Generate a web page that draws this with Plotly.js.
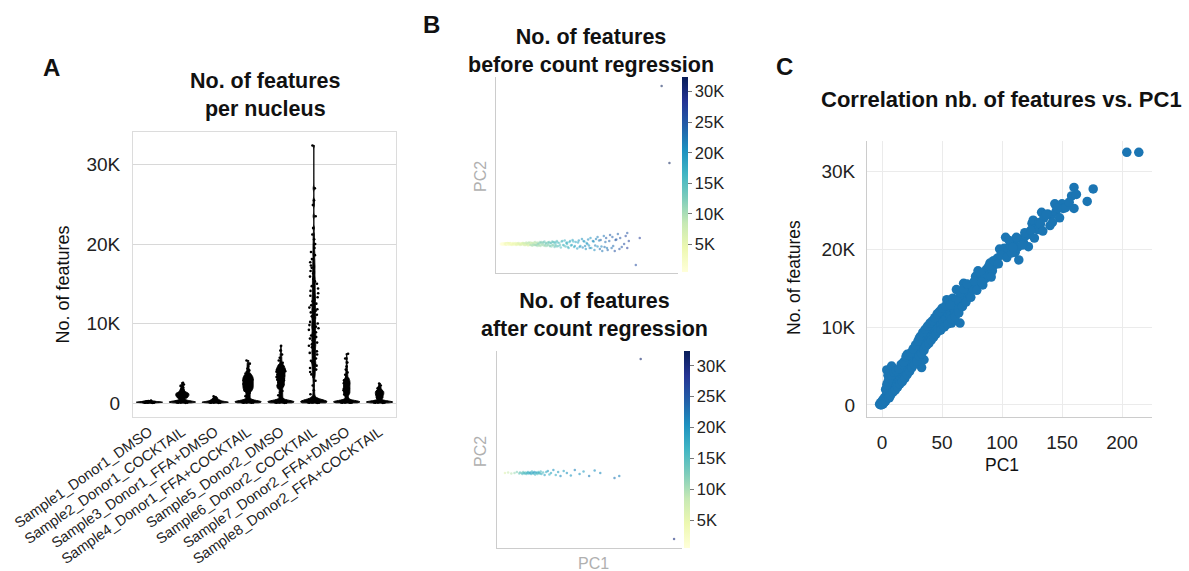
<!DOCTYPE html>
<html><head><meta charset="utf-8">
<script src="https://cdn.plot.ly/plotly-3.0.1.min.js"></script>
<style>html,body{margin:0;padding:0;background:#fff}#chart{width:1189px;height:571px}</style>
</head><body><div id="chart"></div>
<script>
// ---------- DATA ----------
const categories = ['Sample1_Donor1_DMSO','Sample2_Donor1_COCKTAIL','Sample3_Donor1_FFA+DMSO','Sample4_Donor1_FFA+COCKTAIL','Sample5_Donor2_DMSO','Sample6_Donor2_COCKTAIL','Sample7_Donor2_FFA+DMSO','Sample8_Donor2_FFA+COCKTAIL'];
const s1 = [20,30,40,50,55,62,70,78,85,90,95,102,110,115,120,128,135,142,150,160,170,180,195,210,230,260,300];
const s2 = [20,35,50,60,70,80,90,100,110,120,135,150,165,180,200,220,240,260,290,320,
  380,460,540,610,680,760,830,900,960,1020,1090,1150,1210,1280,1350,1430,1520,1610,1720,1840,1980,2150,2320,2550,
  650,720,790,870,930,990,1060,1120,1180,1250,1320];
const s3 = [20,30,45,55,65,75,85,95,105,115,125,135,150,165,180,200,220,245,270,300,330,
  360,390,440,490,550,620,700,830];
const s4 = [25,35,50,60,70,80,90,100,110,120,135,150,165,180,200,220,240,260,290,320,
  450,580,720,860,990,1130,1270,1400,1520,1650,1770,1880,1990,2100,2210,2320,2430,2540,2650,2760,2870,2980,3090,3200,3320,3450,3580,3720,3900,4100,4350,4650,4950,5350,
  1560,1700,1820,1940,2050,2160,2270,2380,2490,2600,2710,2820,2930,3040,3150,3260,3380,3510];
const s5 = [20,35,45,60,70,80,90,100,110,125,140,155,170,185,200,220,245,270,300,330,
  480,640,810,980,1150,1330,1510,1690,1870,2050,2230,2410,2590,2770,2940,3100,3260,3410,3560,3710,3860,4010,4160,4310,4460,4620,4800,5050,5350,5700,6100,6600,7200,
  2140,2320,2500,2680,2850,3020,3180,3340,3490,3640,3790,3940,4090,4240,4390,4540,4710];
const s6 = [20,30,45,55,65,75,85,95,105,115,130,145,160,175,190,210,230,250,280,310,350,
  420,700,1100,1600,2200,2800,3300,3600,3900,4200,4400,4700,4900,5100,5300,5600,5800,6100,6300,6500,6700,7000,7200,7400,7600,7900,8100,8300,8500,8700,8900,9200,9400,9600,9800,
  10000,10200,10500,10700,10900,11100,11400,11600,11800,12000,12300,12500,12800,13000,13300,13500,13800,14100,14400,14700,15000,15300,15600,15900,16300,16600,17000,17300,17700,18100,18600,19000,19500,20000,20600,21200,22000,23500,24900,25500,27000,32400];
const s7 = [25,35,50,60,70,80,90,100,110,120,135,150,165,180,200,220,240,265,295,330,
  520,700,880,1060,1240,1420,1600,1780,1960,2140,2320,2500,2680,2860,3050,3280,3550,3850,4200,4600,5100,5600,6200,
  1150,1330,1510,1690,1870,2050,2230,2410,2590,2770,2950];
const s8 = [20,35,50,60,70,80,90,100,110,120,135,150,165,180,200,220,240,260,290,320,
  400,520,640,760,880,1000,1100,1200,1300,1400,1500,1610,1730,1860,2000,2200,2450,
  580,700,820,940,1050,1150,1250,1350,1450,1560];
const samples = [s1,s2,s3,s4,s5,s6,s7,s8];
const bandwidths = [40,90,60,150,160,250,150,90];

// per-nucleus PC1 / PC2 (before regression) and number of features
const pc1 = [-2,-1,-1,0,0,0,1,1,1,2,2,2,3,3,3,4,4,4,5,5,5,6,6,7,7,8,8,9,9,10,10,11,11,12,12,13,14,14,15,16,17,18,18,19,
 20,21,22,23,24,25,26,27,28,29,30,31,32,33,34,35,36,37,38,39,40,41,42,43,44,45,46,47,48,49,50,51,52,53,54,55,56,57,58,59,60,61,62,63,64,65,66,67,68,69,70,
 72,73,75,76,78,80,81,83,85,87,88,90,92,94,96,98,100,102,103,105,107,110,111,113,114,116,118,120,122,122,125,126,128,130,131,133,135,138,140,141,144,145,148,150,151,158,160,160,162,171,176,204,214,
 3,4,5,6,6,7,8,9,10,11,12,13,14,15,16,17,18,19,20,21,22,23,24,25,26,27,28,29,30,31,32,33,34,35,36,37,38,39,40,41,42,43,44,45,46,47,48,49,50,
 52,53,55,56,58,59,61,62,64,65,67,68,70,71,74,77,79,82,84,86,89,91,93,97,99,104,106,108,112,117,119,124,127,132,134,137,142,146,153,156,109,83,57];
const nFeatures = [100,300,0,200,500,50,400,700,150,600,900,350,800,1100,500,1000,1400,4500,1300,1700,
 3800,1500,2000,1800,4300,2000,5000,2300,2700,2500,3000,2600,3200,3000,2400,3300,3500,3000,3700,4000,
 4100,4500,3600,4700,4900,6500,5300,5600,5500,6200,6000,6600,6800,6500,7100,8500,7400,4800,7800,5800,
 8300,8700,8200,9000,9300,8900,9700,10200,9400,10000,10500,9900,10800,10300,11200,10700,11600,11000,13500,11800,
 12200,11400,10500,12500,12800,12000,14800,12400,13300,10500,13700,14000,15600,13600,14500,15200,14200,15300,14800,16500,
 17200,15800,16600,17000,17400,16500,18200,17200,18000,18800,20000,19300,20100,21500,19800,20400,21000,19600,20200,18600,
 21300,20800,21700,20300,21900,23300,23700,22600,22500,23400,24700,24000,24500,23000,24300,25800,24800,24000,25800,25200,
 26800,27900,25200,27000,26100,27700,32400,32400,
 2000,2600,3000,3400,900,1200,3800,1600,4200,1900,4400,2300,4600,2700,5200,3000,5500,3400,6200,3900,
 6400,4300,6700,4800,7200,5200,7700,5600,8200,6300,8800,6600,9300,7000,9700,7600,10100,7900,10500,8300,
 10800,8700,11200,9100,11700,9500,12000,9600,12400,
 10000,12700,10400,13200,11000,13700,11300,13500,11800,14400,12600,14900,13200,15500,13800,15900,14700,17000,15400,16200,
 17800,16400,18500,18100,19200,18900,21100,19500,21500,20500,22100,22400,21400,23200,22300,24400,23400,25200,25300,26000,20200,15800,12800];
const pc2 = [0,0.5,-0.5,0,0.5,-0.5,0,0.5,-0.5,0.5, 0,-0.5,0.5,-0.5,0.5,0,-0.5,0.5,0.5,-0.5, 0.5,0,-0.5,0.5,1,-0.5,0.5,0,-0.5,0.5,
 1,-0.5,0,0.5,-1,0.5,-0.5,1,0,-0.5, 1,0,-1,0.5,-0.5,1,0,-1,0.5,-0.5, 0.5,1,-1,0.5,-1,1.5,0,-1.5,1,-1,
 1.5,-0.5,1,-1.5,0.5,-1,2,-1,1,-2, 0.5,-1,2,-2,1,-0.5,1.5,-1.5,2.5,-1, 1,-2,1.5,-0.5,2,-2,1,-2.5,2.5,-1,
 1.5,-3,2,-1.5,3,-2,1,-3.5,2.5,-1, 3.5,-2.5,1.5,-4,3,-1.5,4,-3,2,-4.5, 3.5,-2,5,-3.5,2.5,-5,4.5,-1.5,6,-4,
 3,-6,5,-2.5,7,-5,4,-7,8,-3, 6,-6,9,-4,7,-7,4,10,-5,6, 8,-4,11,3,-21,6,158,81,
 0.5,-0.5,0,0.5,-0.5,0,0.5,-0.5,0.5,0, -0.5,0.5,0,-0.5,0.5,0,-0.5,0.5,0.5,-0.5, 0,0.5,-0.5,0.5,1,-0.5,0.5,-1,1,-0.5,
 0.5,-1,1.5,0,-1,1,-1.5,1,-0.5,1.5, -1,0.5,-1,1.5,0,-1.5,1,-1,2,
 -0.5,1.5,-2,0.5,-1,1.5,-2,1,-1,2, -1.5,0.5,-2.5,1.5,-1,3,-1.5,1,-3,2, -1,2.5,-2,1.5,-3,3,-2,1,-4,2.5,
 -1.5,3.5,-2.5,2,-4,3,-2,4.5,-3,0,0,0];

// after count regression
const pc1After = [2,6,10,14,17,20,21,23,24,25,26,27,28,29,30,31,32,33,34,35,36,37,38,39,40,41,42,43,44,45,46,47,48,50,52,54,56,58,60,63,66,69,72,76,80,85,90,96,101,108,115,122,140,146,173,215];
const pc2After = [0,0.5,-0.5,0,1,-0.5,0.5,0,-1,1,0,-0.5,0.5,-1,0,1,-0.5,0,0.5,-1,1.5,0,-0.5,1,-1.5,0.5,0,-1,1,0,-0.5,1.5,-1,0.5,-2,1,2,-1.5,0,3,-2,1,-3,2,0,-2.5,3,-1,1.5,-3,2.5,0,-5,-3,114,-66];
const featAfter = [6000,8000,9000,10500,12000,13000,14000,14500,15000,13500,15500,16000,14500,15000,17000,16500,18000,15500,19000,17500,
 16000,18500,17000,19500,16500,18000,17500,15000,16500,18000,14500,16000,17000,15500,18500,17000,19000,16500,18000,20000,
 17500,19000,21000,18500,20000,19500,21500,20000,19000,22000,20500,21000,22500,21500,31000,30000];

const kTickVals = [0,10000,20000,30000];
const kTickText = ['0','10K','20K','30K'];
const cbTickVals = [5000,10000,15000,20000,25000,30000];
const cbTickText = ['5K','10K','15K','20K','25K','30K'];
const pcTickVals = [0,50,100,150,200];

// ---------- LAYOUT HELPERS ----------
const W = 1189, H = 571;
const FONT = 'Liberation Sans, Arial, Helvetica, sans-serif';
const fx = p => p / W;
const fy = p => 1 - p / H;
const ylgnbu = [[0,'#ffffd9'],[0.125,'#edf8b1'],[0.25,'#c7e9b4'],[0.375,'#7fcdbb'],[0.5,'#41b6c4'],[0.625,'#1d91c0'],[0.75,'#225ea8'],[0.875,'#253494'],[1,'#081d58']];

const traces = [];
categories.forEach((c, i) => {
  traces.push({
    type: 'violin', name: c, y: samples[i], xaxis: 'x', yaxis: 'y',
    points: 'all', pointpos: 0, jitter: 0.5, width: 0.8, spanmode: 'hard',
    bandwidth: bandwidths[i], scalemode: 'width',
    line: {color: '#000', width: 1}, fillcolor: '#000',
    marker: {color: '#000', size: 2.6}, showlegend: false, hoverinfo: 'skip'
  });
});

function cbar(xp, ytop, ybot) {
  return {
    x: fx(xp), xanchor: 'left', xref: 'paper', xpad: 0, ypad: 0,
    y: fy((ytop + ybot) / 2), yanchor: 'middle', yref: 'paper',
    len: (ybot - ytop) / H, lenmode: 'fraction', thickness: 6, thicknessmode: 'pixels',
    outlinewidth: 0, ticks: 'outside', ticklen: 4, tickcolor: '#777',
    tickvals: cbTickVals, ticktext: cbTickText,
    tickfont: {family: FONT, size: 16.5, color: '#222'}
  };
}

traces.push({
  type: 'scatter', mode: 'markers', x: pc1, y: pc2, xaxis: 'x3', yaxis: 'y3',
  marker: {size: 2.5, opacity: 0.55, color: nFeatures, colorscale: ylgnbu, cmin: 500, cmax: 32400,
    showscale: true, colorbar: cbar(682, 77, 272)},
  showlegend: false, hoverinfo: 'skip'
});
traces.push({
  type: 'scatter', mode: 'markers', x: pc1After, y: pc2After, xaxis: 'x4', yaxis: 'y4',
  marker: {size: 2.5, opacity: 0.6, color: featAfter, colorscale: ylgnbu, cmin: 500, cmax: 32400,
    showscale: true, colorbar: cbar(684, 351, 548)},
  showlegend: false, hoverinfo: 'skip'
});
traces.push({
  type: 'scatter', mode: 'markers', x: pc1, y: nFeatures, xaxis: 'x2', yaxis: 'y2',
  marker: {size: 9.5, color: '#1b75b3'}, showlegend: false, hoverinfo: 'skip'
});

const tickFont = {family: FONT, size: 19, color: '#222'};
const bAxis = {showline: true, linecolor: '#cccccc', linewidth: 1, showgrid: false, zeroline: false,
  showticklabels: false, ticks: ''};

const layout = {
  width: W, height: H, margin: {l: 0, r: 0, t: 0, b: 0},
  paper_bgcolor: '#fff', plot_bgcolor: '#fff', font: {family: FONT, color: '#222'},
  showlegend: false,
  xaxis: {domain: [fx(133), fx(396)], anchor: 'y', type: 'category', categoryorder: 'array',
    categoryarray: categories, range: [-0.5, 7.5], showgrid: false, zeroline: false,
    showline: true, mirror: true, linecolor: '#dcdcdc', ticks: '', tickangle: -35,
    tickfont: {family: FONT, size: 14.5, color: '#222'}, ticklabelstandoff: 0},
  yaxis: {domain: [fy(417), fy(132)], anchor: 'x', range: [-1760, 34090],
    tickvals: kTickVals, ticktext: kTickText, showgrid: true, gridcolor: '#d8d8d8',
    zeroline: false, showline: true, mirror: true, linecolor: '#dcdcdc', ticks: '',
    tickfont: tickFont, ticklabelstandoff: 8},
  xaxis2: {domain: [fx(867), fx(1152)], anchor: 'y2', range: [-12.5, 225],
    tickvals: pcTickVals, showgrid: true, gridcolor: '#ebebeb', zeroline: false,
    showline: true, linecolor: '#cccccc', ticks: '', tickfont: tickFont, ticklabelstandoff: 8},
  yaxis2: {domain: [fy(417), fy(141)], anchor: 'x2', range: [-1540, 33850],
    tickvals: kTickVals, ticktext: kTickText, showgrid: true, gridcolor: '#ebebeb', zeroline: false,
    showline: true, linecolor: '#cccccc', ticks: '', tickfont: tickFont, ticklabelstandoff: 7},
  xaxis3: Object.assign({domain: [fx(496), fx(678)], anchor: 'y3', range: [-8, 225]}, bAxis),
  yaxis3: Object.assign({domain: [fy(273), fy(77)], anchor: 'x3', range: [-29, 167]}, bAxis),
  xaxis4: Object.assign({domain: [fx(497), fx(682)], anchor: 'y4', range: [-8, 225]}, bAxis),
  yaxis4: Object.assign({domain: [fy(548), fy(351)], anchor: 'x4', range: [-75, 122]}, bAxis),
  annotations: []
};

function ann(text, x, y, size, opts) {
  layout.annotations.push(Object.assign({
    text: text, x: fx(x), y: fy(y), xref: 'paper', yref: 'paper',
    xanchor: 'center', yanchor: 'middle', showarrow: false,
    font: {family: FONT, size: size, color: '#111'}
  }, opts || {}));
}
// panel letters
ann('<b>A</b>', 51, 67.5, 24);
ann('<b>B</b>', 431, 24.5, 24);
ann('<b>C</b>', 784, 66.5, 24);
// titles
ann('<b>No. of features</b><br><b>per nucleus</b>', 265, 95.5, 21.5);
ann('<b>No. of features</b><br><b>before count regression</b>', 591, 50.5, 21.5);
ann('<b>No. of features</b><br><b>after count regression</b>', 594, 315, 21.5);
ann('<b>Correlation nb. of features vs. PC1</b>', 1002, 99, 22);
// axis titles
ann('No. of features', 62.5, 285, 18, {textangle: -90});
ann('No. of features', 794, 278, 17.5, {textangle: -90});
ann('PC1', 1002, 465, 17.5);
ann('PC2', 480, 177, 16, {textangle: -90, font: {family: FONT, size: 16, color: '#b0b0b0'}});
ann('PC2', 480, 452, 16, {textangle: -90, font: {family: FONT, size: 16, color: '#b0b0b0'}});
ann('PC1', 593, 563, 16, {font: {family: FONT, size: 16, color: '#b0b0b0'}});

Plotly.newPlot('chart', traces, layout, {staticPlot: true, displayModeBar: false});
</script>
</body></html>
